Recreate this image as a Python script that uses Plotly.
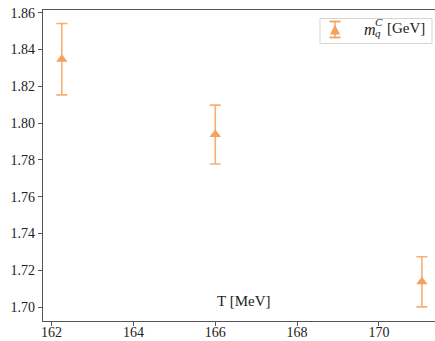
import plotly.graph_objects as go

# Constituent quark mass m_q^C versus temperature
temperature = [162.25, 166.0, 171.05]          # T [MeV]
mass = [1.8348, 1.7938, 1.7138]                # m_q^C [GeV]
mass_err = [0.0194, 0.0160, 0.0136]            # symmetric uncertainty [GeV]

y_ticks = [1.70, 1.72, 1.74, 1.76, 1.78, 1.80, 1.82, 1.84, 1.86]
x_ticks = [162, 164, 166, 168, 170]

ORANGE = "#f5a15c"
FONT = "Liberation Serif, Times New Roman, serif"

W, H = 435, 341
L, R, T, B = 43, 0, 9.5, 20.3
PW, PH = W - L - R, H - T - B


def px(x):
    return (x - L) / PW


def py(y):
    return (H - B - y) / PH


fig = go.Figure()
fig.add_trace(go.Scatter(
    x=temperature, y=mass, mode="markers",
    marker=dict(symbol="triangle-up", size=10, color=ORANGE, line=dict(width=0)),
    error_y=dict(type="data", array=mass_err, visible=True,
                 color="rgba(245,161,92,0.85)", thickness=1.6, width=5.5),
    showlegend=False,
))

axis_common = dict(
    showgrid=False, zeroline=False, showline=True, linecolor="#555555", linewidth=1.3,
    ticks="outside", ticklen=4, tickwidth=1, tickcolor="#555555", automargin=False,
    tickfont=dict(family=FONT, size=14, color="#222222"),
)
fig.update_xaxes(range=[161.79, 171.37], tickvals=x_ticks,
                 ticktext=[str(v) for v in x_ticks], mirror=True,
                 ticklabelstandoff=-6, **axis_common)
fig.update_yaxes(range=[1.6925, 1.8615], tickvals=y_ticks,
                 ticktext=[f"{v:.2f}" for v in y_ticks], **axis_common)

shapes = []
annotations = []

# Legend box with an error-bar glyph
shapes.append(dict(type="rect", xref="paper", yref="paper",
                   x0=px(320), x1=px(432), y0=py(43), y1=py(18),
                   line=dict(color="#d5d5d5", width=1), fillcolor="rgba(255,255,255,0.8)"))
gx = 335
shapes.append(dict(type="line", xref="paper", yref="paper",
                   x0=px(gx), x1=px(gx), y0=py(37), y1=py(21),
                   line=dict(color="rgba(245,161,92,0.85)", width=1.6)))
for cy in (21, 37):
    shapes.append(dict(type="line", xref="paper", yref="paper",
                       x0=px(gx - 5.5), x1=px(gx + 5.5), y0=py(cy), y1=py(cy),
                       line=dict(color=ORANGE, width=1.8)))
shapes.append(dict(type="path", xref="paper", yref="paper",
                   path=f"M {px(gx-5)} {py(34)} L {px(gx+5)} {py(34)} L {px(gx)} {py(24)} Z",
                   fillcolor=ORANGE, line=dict(width=0)))

annotations += [
    dict(text="<i>m</i>", x=px(363), y=py(29), xanchor="left", yanchor="middle",
         font=dict(family=FONT, size=16, color="#222222")),
    dict(text="<i>C</i>", x=px(374), y=py(22), xanchor="left", yanchor="middle",
         font=dict(family=FONT, size=11, color="#222222")),
    dict(text="<i>q</i>", x=px(374), y=py(33), xanchor="left", yanchor="middle",
         font=dict(family=FONT, size=11, color="#222222")),
    dict(text="[GeV]", x=px(385.5), y=py(28), xanchor="left", yanchor="middle",
         font=dict(family=FONT, size=15, color="#222222")),
    dict(text="T [MeV]", x=px(243.5), y=py(300.5), xanchor="center", yanchor="middle",
         font=dict(family=FONT, size=15, color="#222222")),
]
for a in annotations:
    a.update(xref="paper", yref="paper", showarrow=False, borderpad=0)

fig.update_layout(
    width=W, height=H,
    margin=dict(l=L, r=R, t=T, b=B, autoexpand=False),
    paper_bgcolor="white", plot_bgcolor="white",
    shapes=shapes, annotations=annotations,
)

fig.write_html("out.html")
